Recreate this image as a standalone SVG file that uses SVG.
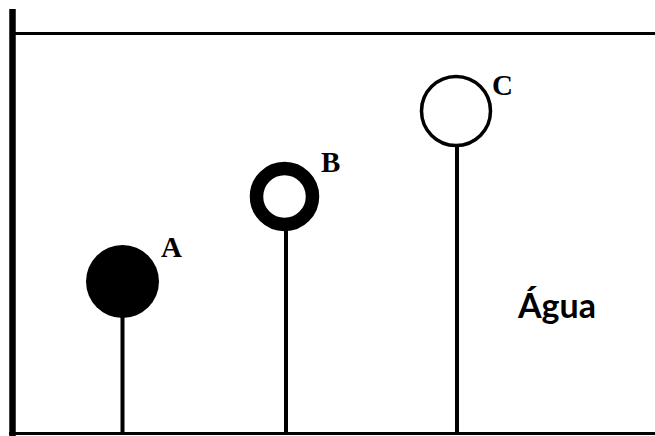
<svg xmlns="http://www.w3.org/2000/svg" width="655" height="436" viewBox="0 0 655 436">
<style>
.line{stroke:#000;fill:none}
.stem{stroke:#000;stroke-width:4}
.lbl{font-family:"Liberation Serif","Times New Roman",serif;font-weight:bold;font-size:29px;fill:#000}
.water{font-family:Lato,"Open Sans",sans-serif;font-weight:bold;font-size:34px;fill:#000}
</style>
<rect width="655" height="436" fill="#fff"/>
<g id="tank">
<line class="line" x1="12.5" y1="9" x2="12.5" y2="436" stroke-width="6.5"/>
<line class="line" x1="12" y1="33.5" x2="655" y2="33.5" stroke-width="3"/>
<line class="line" x1="9" y1="433.5" x2="655" y2="433.5" stroke-width="3"/>
</g>
<g id="connectors">
<line class="stem" x1="122.5" y1="316" x2="122.5" y2="433"/>
<line class="stem" x1="286" y1="229" x2="286" y2="433"/>
<line class="stem" x1="457" y1="145" x2="457" y2="433"/>
</g>
<g id="A">
<circle cx="122.5" cy="281.5" r="36.5" fill="#000"/>
<text class="lbl" x="161" y="257">A</text>
</g>
<g id="B">
<circle cx="284.5" cy="196.5" r="28" fill="#fff" stroke="#000" stroke-width="13.5"/>
<text class="lbl" x="321" y="172">B</text>
</g>
<g id="C">
<circle cx="456" cy="111" r="34.5" fill="#fff" stroke="#000" stroke-width="3.5"/>
<text class="lbl" x="492" y="95">C</text>
</g>
<g id="agua">
<text class="water" x="518" y="318">Água</text>
</g>
</svg>
